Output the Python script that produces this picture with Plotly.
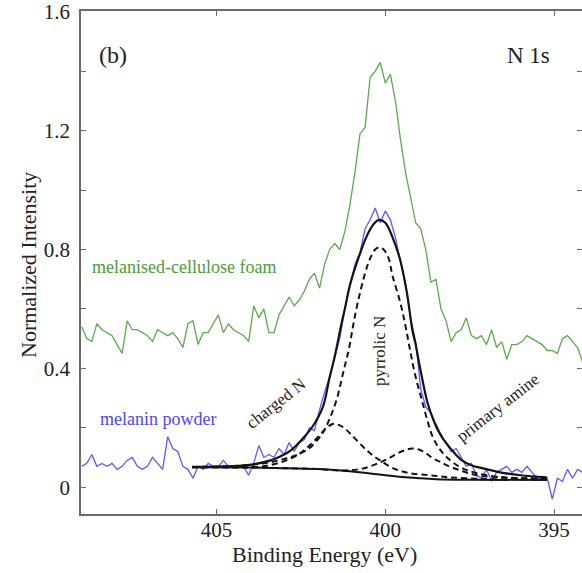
import numpy as np
import plotly.graph_objects as go

# ---------------- data ----------------
# raw spectra sampled every 0.15 eV from 409.0 eV downwards
BE_START = 409.0
BE_STEP = 0.15
foam = [0.54, 0.50, 0.49, 0.55, 0.53, 0.52, 0.51, 0.48, 0.45, 0.56,
        0.53, 0.53, 0.52, 0.51, 0.49, 0.53, 0.52, 0.51, 0.52, 0.50,
        0.47, 0.55, 0.56, 0.48, 0.52, 0.52, 0.55, 0.58, 0.52, 0.55,
        0.53, 0.52, 0.51, 0.49, 0.61, 0.57, 0.60, 0.52, 0.52, 0.58,
        0.61, 0.64, 0.61, 0.63, 0.66, 0.70, 0.72, 0.67, 0.75, 0.80,
        0.82, 0.80, 0.86, 0.95, 1.06, 1.19, 1.21, 1.38, 1.40, 1.43,
        1.36, 1.39, 1.30, 1.17, 1.06, 0.98, 0.89, 0.87, 0.80, 0.69,
        0.70, 0.60, 0.56, 0.49, 0.52, 0.53, 0.57, 0.51, 0.50, 0.51,
        0.48, 0.53, 0.47, 0.49, 0.43, 0.48, 0.48, 0.49, 0.51, 0.50,
        0.49, 0.48, 0.46, 0.46, 0.45, 0.50, 0.51, 0.49, 0.47, 0.42]
powder = [0.07, 0.08, 0.11, 0.07, 0.08, 0.07, 0.08, 0.06, 0.07, 0.09,
          0.10, 0.07, 0.06, 0.07, 0.10, 0.08, 0.06, 0.17, 0.13, 0.12,
          0.07, 0.06, 0.03, 0.07, 0.06, 0.08, 0.07, 0.07, 0.09, 0.07,
          0.07, 0.07, 0.07, 0.04, 0.08, 0.14, 0.10, 0.11, 0.10, 0.13,
          0.11, 0.15, 0.12, 0.15, 0.16, 0.20, 0.19, 0.26, 0.32, 0.37,
          0.44, 0.50, 0.60, 0.68, 0.75, 0.79, 0.87, 0.90, 0.94, 0.89,
          0.93, 0.90, 0.84, 0.76, 0.68, 0.57, 0.49, 0.33, 0.27, 0.25,
          0.20, 0.17, 0.15, 0.12, 0.13, 0.10, 0.07, 0.08, 0.04, 0.03,
          0.06, 0.02, 0.05, 0.06, 0.07, 0.05, 0.06, 0.05, 0.07, 0.05,
          0.03, 0.03, 0.03, -0.04, 0.03, 0.02, 0.06, 0.03, 0.06, 0.05]
be_raw = [round(BE_START - BE_STEP * i, 2) for i in range(len(foam))]

# fitted envelope and components (melanin powder)
env_be = [405.73, 405.0, 404.5, 404.1, 403.8, 403.4, 403.1, 402.8, 402.45, 402.15,
          401.85, 401.65, 401.5, 401.3, 401.2, 401.05, 400.8, 400.55, 400.35, 400.18,
          400.0, 399.8, 399.56, 399.36, 399.2, 399.1, 398.95, 398.75, 398.55, 398.3,
          398.05, 397.75, 397.45, 397.1, 396.6, 396.0, 395.21]
env_val = [0.068, 0.069, 0.071, 0.074, 0.079, 0.090, 0.104, 0.124, 0.163, 0.205,
           0.27, 0.37, 0.44, 0.55, 0.60, 0.68, 0.77, 0.845, 0.885, 0.90,
           0.89, 0.845, 0.765, 0.655, 0.53, 0.48, 0.39, 0.285, 0.22, 0.165,
           0.128, 0.092, 0.074, 0.063, 0.05, 0.04, 0.033]

pyr_be = [405.73, 405.0, 404.5, 404.0, 403.5, 403.0, 402.53, 402.23, 401.87, 401.64,
          401.43, 401.25, 401.07, 400.96, 400.81, 400.6, 400.45, 400.3, 400.18, 400.05,
          399.9, 399.79, 399.56, 399.41, 399.28, 399.12, 398.91, 398.73, 398.59, 398.4,
          398.17, 397.79, 397.28, 396.51, 395.8, 395.21]
pyr_val = [0.068, 0.069, 0.071, 0.075, 0.082, 0.095, 0.113, 0.133, 0.18, 0.233,
           0.30, 0.385, 0.47, 0.54, 0.625, 0.72, 0.77, 0.80, 0.807, 0.80,
           0.77, 0.713, 0.623, 0.547, 0.47, 0.38, 0.29, 0.215, 0.168, 0.13,
           0.10, 0.068, 0.047, 0.033, 0.03, 0.029]

chg_be = [405.73, 404.5, 404.1, 403.62, 403.12, 402.8, 402.61, 402.4, 402.2, 402.0,
          401.8, 401.6, 401.5, 401.35, 401.2, 401.04, 400.8, 400.54, 400.35, 400.15,
          399.76, 399.27, 398.67, 398.2, 397.6, 396.8, 395.21]
chg_val = [0.067, 0.067, 0.067, 0.070, 0.083, 0.097, 0.107, 0.125, 0.145, 0.168,
           0.193, 0.211, 0.213, 0.208, 0.198, 0.18, 0.152, 0.123, 0.105, 0.09,
           0.063, 0.047, 0.04, 0.034, 0.03, 0.027, 0.026]

amn_be = [405.73, 404.0, 403.0, 402.0, 401.25, 400.66, 400.16, 399.9, 399.65, 399.4,
          399.2, 398.97, 398.78, 398.59, 398.37, 398.17, 397.79, 397.28, 396.51, 395.8,
          395.21]
amn_val = [0.067, 0.066, 0.064, 0.061, 0.056, 0.063, 0.083, 0.097, 0.113, 0.125,
           0.13, 0.125, 0.113, 0.097, 0.085, 0.073, 0.057, 0.04, 0.033, 0.029,
           0.027]

bg_be = [405.73, 404.0, 403.0, 402.0, 401.5, 401.0, 400.5, 400.0, 399.5, 399.0,
         398.5, 397.5, 395.21]
bg_val = [0.067, 0.066, 0.064, 0.061, 0.058, 0.053, 0.047, 0.040, 0.034, 0.030,
          0.027, 0.025, 0.024]

x_ticks = [405, 400, 395]
y_ticks = [0, 0.4, 0.8, 1.2, 1.6]
y_tick_text = ["0", "0.4", "0.8", "1.2", "1.6"]

# ---------------- styling ----------------
SERIF = "Liberation Serif"
GREEN_LINE = "#5fa84f"
GREEN_TEXT = "#4f9a40"
BLUE_LINE = "#5a5aff"
BLUE_TEXT = "#4a4af0"
AXIS = "#6a6a6a"
BLACK = "#141414"
DASH = "6px,4px"

fig = go.Figure()
fig.add_trace(go.Scatter(x=be_raw, y=foam, mode="lines",
                         line=dict(color=GREEN_LINE, width=1.3), showlegend=False))
fig.add_trace(go.Scatter(x=be_raw, y=powder, mode="lines",
                         line=dict(color=BLUE_LINE, width=1.3), showlegend=False))
for xs, ys in [(pyr_be, pyr_val), (chg_be, chg_val), (amn_be, amn_val)]:
    fig.add_trace(go.Scatter(x=xs, y=ys, mode="lines", line_shape="spline",
                             line=dict(color=BLACK, width=2, dash=DASH),
                             showlegend=False))
fig.add_trace(go.Scatter(x=bg_be, y=bg_val, mode="lines", line_shape="spline",
                         line=dict(color=BLACK, width=2), showlegend=False))
fig.add_trace(go.Scatter(x=env_be, y=env_val, mode="lines", line_shape="spline",
                         line=dict(color=BLACK, width=2.2), showlegend=False))

Y_RANGE = [-0.0904, 1.603]

fig.update_layout(
    width=582, height=573,
    margin=dict(l=81, r=0, t=9, b=59),
    paper_bgcolor="white", plot_bgcolor="white",
    font=dict(family=SERIF, color="#222", size=20),
    xaxis=dict(range=[409.02, 394.17], tickvals=x_ticks, ticks="inside",
               ticklen=5, tickwidth=1.2, tickcolor=AXIS, showline=True,
               linecolor=AXIS, linewidth=1.5, mirror="ticks", showgrid=False,
               zeroline=False, tickfont=dict(family=SERIF, size=21, color="#222"),
               ticklabelstandoff=-4),
    yaxis=dict(range=Y_RANGE, tickvals=y_ticks, ticktext=y_tick_text,
               ticks="inside", ticklen=5, tickwidth=1.2, tickcolor=AXIS,
               showline=True, linecolor=AXIS, linewidth=1.5, mirror=False,
               showgrid=False, zeroline=False, ticklabeloverflow="allow",
               minor=dict(dtick=0.2, tick0=0, ticks="inside", ticklen=5,
                          tickcolor=AXIS, tickwidth=1.2),
               tickfont=dict(family=SERIF, size=21, color="#222"),
               ticklabelstandoff=5),
    yaxis2=dict(range=Y_RANGE, overlaying="y", side="right", anchor="x",
                tickvals=y_ticks, ticks="inside", ticklen=5, tickwidth=1.2,
                tickcolor=AXIS, showticklabels=False, showline=False,
                showgrid=False, zeroline=False,
                minor=dict(dtick=0.2, tick0=0, ticks="inside", ticklen=5,
                           tickcolor=AXIS, tickwidth=1.2)),
)
fig.add_trace(go.Scatter(x=[None], y=[None], yaxis="y2", showlegend=False,
                         hoverinfo="skip"))

ann = []
ann.append(dict(text="Binding Energy (eV)", xref="paper", yref="paper",
                x=0.486, y=-0.0800, xanchor="center", yanchor="middle",
                showarrow=False, font=dict(family=SERIF, size=22, color="#222")))
ann.append(dict(text="Normalized Intensity", xref="paper", yref="paper",
                x=-0.1058, y=0.495, xanchor="center", yanchor="middle",
                textangle=-90, showarrow=False,
                font=dict(family=SERIF, size=22, color="#222")))
ann.append(dict(text="(b)", x=408.54, y=1.456, xanchor="left", yanchor="middle",
                showarrow=False, font=dict(family=SERIF, size=24, color="#222")))
ann.append(dict(text="N 1s", x=396.45, y=1.453, xanchor="left", yanchor="middle",
                showarrow=False, font=dict(family=SERIF, size=23, color="#222")))
ann.append(dict(text="melanised-cellulose foam", x=408.75, y=0.74,
                xanchor="left", yanchor="middle", showarrow=False,
                font=dict(family=SERIF, size=18, color=GREEN_TEXT)))
ann.append(dict(text="melanin powder", x=408.51, y=0.231,
                xanchor="left", yanchor="middle", showarrow=False,
                font=dict(family=SERIF, size=18, color=BLUE_TEXT)))
ann.append(dict(text="charged N", x=403.24, y=0.281, textangle=-38,
                showarrow=False, font=dict(family=SERIF, size=17, color="#222")))
ann.append(dict(text="pyrrolic N", x=400.19, y=0.458, textangle=-90,
                showarrow=False, font=dict(family=SERIF, size=17, color="#222")))
ann.append(dict(text="primary amine", x=396.66, y=0.268, textangle=-38,
                showarrow=False, font=dict(family=SERIF, size=17, color="#222")))
fig.update_layout(annotations=ann)

fig.write_html("out.html")
